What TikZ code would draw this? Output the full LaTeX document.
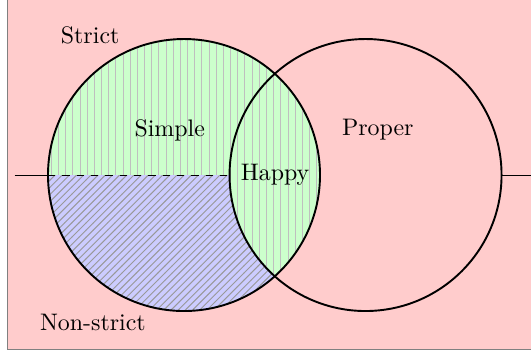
\documentclass[tikz,border=0pt]{standalone}
\usepackage{tikz}
\usetikzlibrary{patterns}

\begin{document}
\begin{tikzpicture}[
  simplefill/.style={fill=green!20, postaction={pattern=vertical lines, pattern color=gray!50}},
  nonstrictfill/.style={fill=blue!20, postaction={pattern=north east lines, pattern color=gray!80}},
  setline/.style={thick}]
  \useasboundingbox (-2.706,-2.603) rectangle (5.103,2.574);
  \draw[gray, fill=red!20] (-2.59,-2.56) rectangle (5.6,3);

  \coordinate (cl) at (0,0);
  \coordinate (cr) at (2.67,0);

  % left set, split along the axis
  \fill[simplefill] (2,0) arc (0:180:2) -- cycle;
  \fill[nonstrictfill] (-2,0) arc (180:360:2) -- cycle;
  \begin{scope}
    \clip (cl) circle (2);
    \fill[simplefill] (cr) circle (2);
  \end{scope}

  \draw (-2.49,0) -- (-2,0);
  \draw[dashed] (-2,0) -- (0.67,0);
  \draw (4.67,0) -- (5.2,0);

  \draw[setline] (cl) circle (2);
  \draw[setline] (cr) circle (2);

  \node (strict) at (-1.38,2.06) {Strict};
  \node (simple) at (-0.21,0.66) {Simple};
  \node (happy) at (1.34,0) {Happy};
  \node (proper) at (2.85,0.66) {Proper};
  \node (nonstrict) at (-1.34,-2.17) {Non-strict};
\end{tikzpicture}
\end{document}
